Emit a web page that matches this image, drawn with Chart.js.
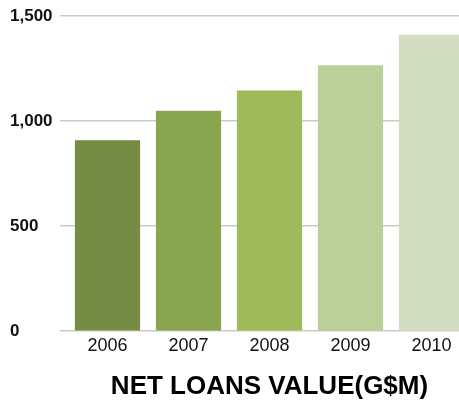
<!DOCTYPE html>
<html>
<head>
<meta charset="utf-8">
<script src="https://cdn.jsdelivr.net/npm/chart.js@4/dist/chart.umd.min.js"></script>
<style>
  html, body { margin: 0; padding: 0; background: #fff; overflow: hidden; }
  #wrap { width: 472px; height: 400px; }
</style>
</head>
<body>
<div id="wrap"><canvas id="chart" width="472" height="400"></canvas></div>
<script>
const years = ['2006', '2007', '2008', '2009', '2010'];
const netLoans = [909, 1049, 1146, 1266, 1411];
const barColors = ['#768b43', '#8aa54f', '#9eba59', '#bbcf98', '#d2debf'];
const yTicks = [0, 500, 1000, 1500];

const font = "'Liberation Sans', Arial, Helvetica, sans-serif";

const ctx = document.getElementById('chart').getContext('2d');
const chart = new Chart(ctx, {
  type: 'bar',
  data: {
    labels: years,
    datasets: [{
      label: 'Net loans value',
      data: netLoans,
      backgroundColor: barColors,
      borderWidth: 0,
      barPercentage: 0.805,
      categoryPercentage: 1
    }]
  },
  options: {
    responsive: false,
    animation: false,
    layout: { padding: { left: 10, top: 16, right: 0, bottom: 0 } },
    plugins: {
      legend: { display: false },
      tooltip: { enabled: false }
    },
    scales: {
      x: {
        grid: { display: false },
        border: { display: false },
        ticks: {
          color: '#111',
          font: { family: font, size: 18 },
          padding: -4
        },
        title: {
          display: true,
          text: 'NET LOANS VALUE(G$M)',
          color: '#000',
          font: { family: font, size: 26, weight: 'bold' },
          padding: { top: 18, bottom: -2 }
        }
      },
      y: {
        min: 0,
        max: 1500,
        z: 1,
        afterFit: s => { s.width = 57; },
        afterBuildTicks: s => { s.ticks = yTicks.map(v => ({ value: v })); },
        grid: { color: '#cbcbc3', lineWidth: 1.5, tickLength: 7, tickColor: '#cbcbc3' },
        border: { display: false },
        ticks: {
          crossAlign: 'far',
          padding: 4,
          color: '#111',
          font: { family: font, size: 17, weight: 'bold' },
          callback: v => v.toLocaleString('en-US')
        }
      }
    }
  }
});
</script>
</body>
</html>
